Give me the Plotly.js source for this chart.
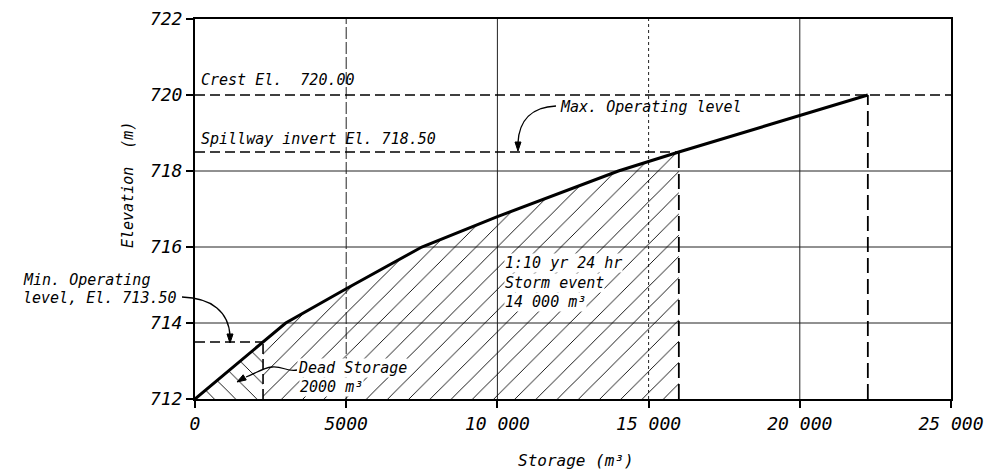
<!DOCTYPE html>
<html>
<head>
<meta charset="utf-8">
<script src="https://cdn.plot.ly/plotly-3.0.1.min.js"></script>
<style>html,body{margin:0;padding:0;background:#fff;}#chart{width:993px;height:473px;}</style>
</head>
<body>
<div id="chart"></div>
<script>
// ---- data ----
const storage   = [0, 2250, 3000, 5000, 7500, 10000, 14000, 16000, 22250];
const elevation = [712, 713.5, 714, 714.9, 716, 716.8, 718, 718.5, 720];
const crestEl = 720.0;
const spillwayEl = 718.5;
const minOpEl = 713.5;
const deadStorageEnd = 2250;
const stormEnd = 16000;
const crestStorage = 22250;
const xTickVals = [0, 5000, 10000, 15000, 20000, 25000];
const xTickText = ['0', '5000', '10 000', '15 000', '20 000', '25 000'];
const yTickVals = [712, 714, 716, 718, 720, 722];
const xGrid = [5000, 10000, 15000, 20000];
const yGrid = [714, 716, 718];

// ---- layout helpers (pixel -> paper) ----
const L = 195, R = 951, T = 19, B = 399;
const px = x => (x - L) / (R - L);
const py = y => (B - y) / (B - T);
const P = (x, y) => px(x).toFixed(4) + ',' + py(y).toFixed(4);

const FAM = 'DejaVu Sans Mono';
const FONT = {family: FAM, size: 15, color: '#000', style: 'italic'};
const dashed = {color: '#000', width: 1.6, dash: '10px,5px'};
const dashedLong = {color: '#000', width: 1.8, dash: '15px,6px'};

// regions
const deadX = [], deadY = [], stormX = [], stormY = [];
storage.forEach((s, i) => {
  if (s <= deadStorageEnd) { deadX.push(s); deadY.push(elevation[i]); }
  if (s >= deadStorageEnd && s <= stormEnd) { stormX.push(s); stormY.push(elevation[i]); }
});
deadX.push(deadStorageEnd, 0); deadY.push(712, 712);
stormX.push(stormEnd, deadStorageEnd); stormY.push(712, 712);

const noHover = {hoverinfo: 'skip', showlegend: false};
const traces = [
  Object.assign({x: stormX, y: stormY, mode: 'lines', fill: 'toself', line: {width: 0},
    fillcolor: 'rgba(0,0,0,0)',
    fillpattern: {shape: '/', size: 15, solidity: 0.06, fgcolor: '#000', bgcolor: 'rgba(255,255,255,0)'}}, noHover),
  Object.assign({x: deadX, y: deadY, mode: 'lines', fill: 'toself', line: {width: 0},
    fillcolor: 'rgba(0,0,0,0)',
    fillpattern: {shape: '\\', size: 15, solidity: 0.06, fgcolor: '#000', bgcolor: 'rgba(255,255,255,0)'}}, noHover),
  Object.assign({x: [0, 25000], y: [crestEl, crestEl], mode: 'lines', line: dashed}, noHover),
  Object.assign({x: [0, stormEnd], y: [spillwayEl, spillwayEl], mode: 'lines', line: dashed}, noHover),
  Object.assign({x: [0, deadStorageEnd], y: [minOpEl, minOpEl], mode: 'lines', line: dashed}, noHover),
  Object.assign({x: [deadStorageEnd, deadStorageEnd], y: [712, minOpEl], mode: 'lines', line: dashed}, noHover),
  Object.assign({x: [stormEnd, stormEnd], y: [712, spillwayEl], mode: 'lines', line: dashedLong}, noHover),
  Object.assign({x: [crestStorage, crestStorage], y: [712, crestEl], mode: 'lines', line: dashedLong}, noHover),
  Object.assign({x: storage, y: elevation, mode: 'lines', line: {color: '#000', width: 3}}, noHover)
];

const gridDash = {5000: '12px,3px', 10000: 'solid', 15000: '3px,3px', 20000: 'solid'};
const shapes = [];
xGrid.forEach(g => shapes.push({type: 'line', xref: 'x', yref: 'y', x0: g, x1: g, y0: 712, y1: 722,
  layer: 'below', line: {color: '#222', width: 1, dash: gridDash[g]}}));
yGrid.forEach(g => shapes.push({type: 'line', xref: 'x', yref: 'y', x0: 0, x1: 25000, y0: g, y1: g,
  layer: 'below', line: {color: '#222', width: 1}}));
// leader curves
const leader = {color: '#000', width: 1.3};
shapes.push({type: 'path', xref: 'paper', yref: 'paper', line: leader,
  path: 'M' + P(182, 297) + ' C' + P(212, 298) + ' ' + P(229, 312) + ' ' + P(230, 336)});
shapes.push({type: 'path', xref: 'paper', yref: 'paper', line: leader,
  path: 'M' + P(556, 106) + ' C' + P(532, 107) + ' ' + P(519, 120) + ' ' + P(518, 143)});
shapes.push({type: 'path', xref: 'paper', yref: 'paper', line: leader,
  path: 'M' + P(297, 370) + ' C' + P(287, 372) + ' ' + P(283, 366) + ' ' + P(272, 367) +
        ' C' + P(262, 368) + ' ' + P(257, 373) + ' ' + P(246, 377)});
// arrowheads (filled triangles)
function head(tx, ty, dx, dy) {
  const n = Math.hypot(dx, dy); dx /= n; dy /= n;
  const len = 9, hw = 3;
  const bx = tx - dx * len, by = ty - dy * len;
  return {type: 'path', xref: 'paper', yref: 'paper', fillcolor: '#000', line: {color: '#000', width: 1},
    path: 'M' + P(tx, ty) + ' L' + P(bx - dy * hw, by + dx * hw) + ' L' + P(bx + dy * hw, by - dx * hw) + ' Z'};
}
shapes.push(head(230, 343, 0, 1));
shapes.push(head(518, 151, 0, 1));
shapes.push(head(237, 382, -10, 6));

const ann = (x, y, text, extra) => Object.assign({xref: 'paper', yref: 'paper', x: px(x), y: py(y),
  text: text, showarrow: false, xanchor: 'left', yanchor: 'middle', font: FONT}, extra || {});
const bg = {bgcolor: '#fff', borderpad: 0};
const annotations = [
  ann(199, 80, 'Crest El.  720.00'),
  ann(199, 139, 'Spillway invert El. 718.50'),
  ann(558, 107, 'Max. Operating level'),
  ann(21, 280, 'Min. Operating'),
  ann(21, 298, 'level, El. 713.50'),
  ann(297, 368, 'Dead Storage', bg),
  ann(299, 387, '2000 m³', bg),
  ann(504, 263, '1:10 yr 24 hr', bg),
  ann(504, 283, 'Storm event', bg),
  ann(504, 302, '14 000 m³', bg),
  // axis titles
  ann(128, 185, 'Elevation  (m)', {xanchor: 'center', textangle: -90,
    font: {family: FAM, size: 15, color: '#000', style: 'italic'}}),
  ann(576, 460, 'Storage (m³)', {xanchor: 'center',
    font: {family: FAM, size: 16, color: '#000', style: 'italic'}})
];

const axisCommon = {showline: true, linecolor: '#000', linewidth: 2, mirror: true, ticks: 'outside',
  ticklen: 7, tickwidth: 2, tickcolor: '#000', showgrid: false, zeroline: false,
  tickfont: {family: FAM, size: 18, color: '#000', style: 'italic'}};

const layout = {
  width: 993, height: 473,
  margin: {l: L, r: 993 - R, t: T, b: 473 - B},
  paper_bgcolor: '#fff', plot_bgcolor: '#fff',
  showlegend: false,
  xaxis: Object.assign({}, axisCommon, {range: [0, 25000], tickmode: 'array', tickvals: xTickVals,
    ticktext: xTickText}),
  yaxis: Object.assign({}, axisCommon, {range: [712, 722], tickmode: 'array', tickvals: yTickVals}),
  shapes: shapes,
  annotations: annotations
};

Plotly.newPlot('chart', traces, layout, {staticPlot: true, displayModeBar: false});
</script>
</body>
</html>
